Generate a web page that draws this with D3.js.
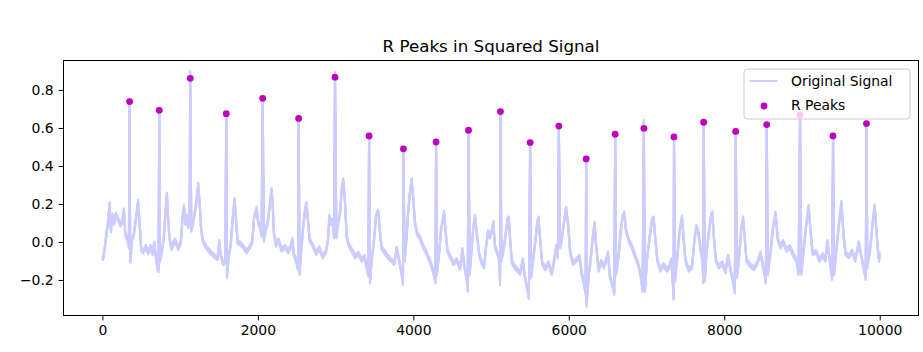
<!DOCTYPE html>
<html>
<head>
<meta charset="utf-8">
<script src="https://cdn.jsdelivr.net/npm/d3@7"></script>
<style>
  body { margin: 0; background: #fff; }
  svg { display: block; font-family: "DejaVu Sans", sans-serif; }
</style>
</head>
<body>
<div id="chart"></div>
<script>
// ECG trace: [sample index, amplitude]
const signal = [
  [0,-0.09],[15,-0.077],[33,-0.025],[54,0.046],[76,0.116],[93,0.2],[110,0.06],[131,0.14],[153,0.1],[174,0.145],
  [204,0.116],[234,0.09],[255,0.105],[277,0.168],[294,0.046],[315,0.02],[332,0.0],[341,-0.025],[350,0.745],[358,-0.095],
  [362,-0.1],[379,0.01],[405,0.04],[430,0.116],[460,0.212],[482,0.08],[500,-0.042],[526,-0.05],[560,-0.025],[590,-0.056],
  [620,-0.025],[645,-0.06],[667,-0.007],[688,-0.077],[709,-0.14],[722,-0.15],[732,0.697],[737,-0.1],[762,-0.06],[792,0.03],
  [817,0.186],[830,0.25],[847,0.116],[864,0.02],[890,-0.033],[933,0.01],[976,-0.033],[1010,0.0],[1032,0.133],[1050,0.186],
  [1071,0.098],[1088,0.133],[1105,0.081],[1122,0.116],[1130,0.89],[1144,0.063],[1165,0.098],[1191,0.16],[1212,0.221],[1233,0.3],
  [1251,0.204],[1268,0.081],[1289,0.011],[1320,-0.016],[1363,-0.042],[1405,-0.06],[1448,-0.077],[1482,-0.086],[1504,0.0],[1525,-0.077],
  [1555,-0.112],[1581,-0.1],[1594,0.675],[1603,-0.182],[1624,-0.077],[1650,-0.016],[1676,0.116],[1701,0.221],[1723,0.098],[1740,0.0],
  [1770,-0.007],[1812,-0.025],[1855,-0.051],[1898,-0.025],[1928,0.0],[1953,0.133],[1984,0.177],[2006,0.098],[2027,0.081],[2048,0.037],
  [2062,0.756],[2078,0.011],[2100,0.063],[2125,0.098],[2151,0.186],[2177,0.274],[2190,0.204],[2207,0.046],[2233,-0.016],[2263,0.011],
  [2306,-0.042],[2348,-0.025],[2391,-0.051],[2422,-0.025],[2443,0.011],[2465,-0.068],[2490,-0.095],[2516,-0.139],[2525,0.65],[2537,-0.165],
  [2559,-0.042],[2584,0.081],[2610,0.177],[2627,0.2],[2644,0.116],[2666,0.011],[2705,-0.016],[2748,-0.06],[2791,-0.033],[2833,-0.077],
  [2876,-0.051],[2903,0.011],[2920,0.133],[2941,0.098],[2962,0.116],[2980,0.028],[2993,0.885],[3010,0.028],[3031,0.098],[3057,0.151],
  [3082,0.291],[3099,0.326],[3122,0.204],[3143,0.028],[3169,-0.016],[3207,-0.042],[3250,-0.077],[3293,-0.06],[3336,-0.095],[3371,-0.077],
  [3400,-0.13],[3422,-0.174],[3431,0.558],[3443,-0.209],[3465,-0.095],[3495,0.011],[3520,0.133],[3542,0.16],[3551,0.155],[3572,0.046],
  [3593,-0.033],[3628,-0.051],[3670,-0.077],[3713,-0.095],[3756,-0.112],[3786,-0.033],[3816,-0.095],[3850,-0.165],[3867,-0.218],[3873,0.49],
  [3888,-0.095],[3914,0.028],[3935,0.168],[3961,0.274],[3979,0.326],[4001,0.221],[4022,0.098],[4048,0.046],[4086,0.02],[4130,-0.025],
  [4172,-0.06],[4207,-0.095],[4237,-0.13],[4262,-0.165],[4284,-0.209],[4293,0.526],[4305,-0.165],[4332,-0.06],[4357,0.063],[4396,0.155],
  [4417,0.046],[4438,-0.042],[4474,-0.077],[4516,-0.112],[4559,-0.095],[4602,-0.139],[4632,-0.042],[4657,-0.13],[4683,-0.182],[4700,-0.253],
  [4710,0.588],[4726,-0.165],[4752,-0.025],[4773,0.081],[4794,0.133],[4821,0.028],[4846,-0.06],[4881,-0.112],[4910,-0.13],[4936,-0.025],
  [4962,0.054],[4987,0.028],[5013,0.063],[5030,0.102],[5051,-0.025],[5082,-0.06],[5108,-0.095],[5116,-0.218],[5121,0.686],[5134,-0.095],
  [5159,-0.042],[5185,0.028],[5211,0.116],[5229,0.125],[5246,0.011],[5267,-0.104],[5301,-0.13],[5341,-0.147],[5375,-0.165],[5409,-0.095],
  [5435,-0.182],[5461,-0.235],[5487,-0.291],[5503,0.523],[5516,-0.182],[5546,-0.077],[5572,0.011],[5594,0.098],[5611,0.125],[5632,0.011],
  [5658,-0.112],[5697,-0.139],[5740,-0.112],[5783,-0.165],[5813,-0.095],[5838,-0.025],[5860,-0.077],[5872,0.61],[5890,-0.025],[5915,0.028],
  [5941,0.116],[5967,0.177],[5993,0.081],[6019,-0.06],[6053,-0.112],[6096,-0.095],[6139,-0.077],[6165,-0.165],[6191,-0.209],[6217,-0.27],
  [6224,0.437],[6229,-0.332],[6255,-0.182],[6280,-0.095],[6306,0.011],[6332,0.098],[6353,-0.025],[6384,-0.147],[6418,-0.104],[6452,-0.13],
  [6482,-0.095],[6504,-0.06],[6529,-0.182],[6555,-0.218],[6585,-0.27],[6597,0.567],[6610,-0.165],[6640,-0.077],[6666,0.046],[6692,0.133],
  [6714,0.151],[6735,0.063],[6770,0.011],[6812,-0.025],[6855,-0.077],[6890,-0.112],[6920,-0.165],[6950,-0.253],[6965,0.633],[6980,-0.253],
  [7006,-0.095],[7036,0.011],[7071,0.116],[7092,0.125],[7114,0.011],[7139,-0.095],[7178,-0.147],[7221,-0.121],[7264,-0.147],[7294,-0.13],
  [7320,-0.095],[7341,-0.235],[7348,-0.296],[7354,0.553],[7367,-0.2],[7393,-0.095],[7423,0.046],[7457,0.13],[7479,0.011],[7500,-0.095],
  [7543,-0.147],[7586,-0.13],[7616,0.011],[7642,0.081],[7668,0.046],[7694,-0.033],[7720,-0.095],[7730,-0.209],[7736,0.63],[7750,-0.2],
  [7771,-0.06],[7801,0.046],[7832,0.142],[7849,0.151],[7866,0.028],[7892,-0.095],[7930,-0.13],[7973,-0.112],[8016,-0.156],[8050,-0.077],
  [8081,-0.147],[8111,-0.2],[8136,-0.261],[8148,0.582],[8162,-0.182],[8188,-0.095],[8218,0.063],[8243,0.125],[8265,0.011],[8286,-0.095],
  [8330,-0.121],[8381,-0.139],[8424,-0.112],[8467,-0.06],[8501,-0.13],[8535,-0.209],[8547,0.618],[8561,-0.165],[8595,-0.06],[8629,0.081],
  [8659,0.151],[8690,0.011],[8724,-0.025],[8758,0.0],[8801,-0.042],[8844,-0.025],[8887,-0.068],[8930,-0.095],[8956,-0.165],[8975,0.668],
  [8992,-0.165],[9022,-0.042],[9052,0.081],[9086,0.186],[9112,0.046],[9138,-0.06],[9181,-0.051],[9224,-0.095],[9266,-0.068],[9302,-0.095],
  [9327,0.0],[9357,-0.095],[9387,-0.191],[9400,0.558],[9413,-0.165],[9447,-0.025],[9481,0.116],[9508,0.207],[9533,0.046],[9559,-0.06],
  [9602,-0.077],[9645,-0.051],[9687,-0.095],[9730,-0.007],[9773,-0.095],[9807,-0.165],[9820,-0.191],[9830,0.623],[9841,-0.13],[9875,-0.042],
  [9905,0.081],[9935,0.189],[9960,0.046],[9980,-0.06],[9992,-0.095],[9999,-0.06]
];

// detected R peaks
const peakIdx = [350, 732, 1131, 1594, 2062, 2525, 2993, 3431, 3873, 4293, 4710, 5121,
                 5503, 5872, 6224, 6597, 6967, 7353, 7735, 8147, 8546, 8975, 9399, 9830];
const peakVal = [0.739, 0.693, 0.861, 0.675, 0.756, 0.65, 0.867, 0.558, 0.49, 0.526, 0.588, 0.686,
                 0.523, 0.61, 0.437, 0.567, 0.598, 0.553, 0.63, 0.582, 0.618, 0.668, 0.558, 0.623];

const xTicks = [0, 2000, 4000, 6000, 8000, 10000];
const yTicks = [-0.2, 0.0, 0.2, 0.4, 0.6, 0.8];
const legendLabels = ["Original Signal", "R Peaks"];

const W = 923, H = 352;
const margin = { top: 60.5, right: 4.5, bottom: 36.5, left: 63.5 };
const width = W - margin.left - margin.right;
const height = H - margin.top - margin.bottom;

const lineColor = "#ccccff";
const peakColor = "#bf00bf";

const svg = d3.select("#chart").append("svg")
  .attr("width", W)
  .attr("height", H);

const g = svg.append("g")
  .attr("transform", `translate(${margin.left},${margin.top})`);

const x = d3.scaleLinear().domain([-500, 10499]).range([0, width]);
const y = d3.scaleLinear().domain([-0.387, 0.955]).range([height, 0]);

// Signal (drawn a few times with a small vertical shift to give the noisy band)
const line = d3.line()
  .x(d => x(d[0]))
  .y(d => y(d[1]));

const sig = g.append("g");
[-1.8, -0.6, 0.6, 1.8].forEach(dy => {
  sig.append("path")
    .datum(signal)
    .attr("transform", `translate(0,${dy})`)
    .attr("fill", "none")
    .attr("stroke", lineColor)
    .attr("stroke-width", 2.1)
    .attr("stroke-linejoin", "round")
    .attr("d", line);
});

// Peaks
g.selectAll(".peak")
  .data(peakIdx)
  .enter().append("circle")
  .attr("class", "peak")
  .attr("cx", d => x(d))
  .attr("cy", (d, i) => y(peakVal[i]))
  .attr("r", 3.4)
  .attr("fill", peakColor);

// Axes
const xAxis = g.append("g")
  .attr("transform", `translate(0,${height})`)
  .call(d3.axisBottom(x).tickValues(xTicks).tickFormat(d3.format("d"))
    .tickSize(4.9).tickPadding(4.9).tickSizeOuter(0));
const yAxis = g.append("g")
  .call(d3.axisLeft(y).tickValues(yTicks).tickFormat(d3.format(".1f"))
    .tickSize(4.9).tickPadding(4.9).tickSizeOuter(0));

[xAxis, yAxis].forEach(a => {
  a.select(".domain").remove();
  a.selectAll("line").attr("stroke", "#000").attr("stroke-width", 1);
  a.selectAll("text")
    .style("font-family", "'DejaVu Sans', sans-serif")
    .style("font-size", "13.9px")
    .attr("fill", "#000");
});

// Frame
g.append("rect")
  .attr("x", 0).attr("y", 0)
  .attr("width", width).attr("height", height)
  .attr("fill", "none")
  .attr("stroke", "#000")
  .attr("stroke-width", 1);

// Title
svg.append("text")
  .attr("x", margin.left + width / 2)
  .attr("y", 52)
  .attr("text-anchor", "middle")
  .style("font-size", "16.7px")
  .attr("fill", "#000")
  .text("R Peaks in Squared Signal");

// Legend
const lg = svg.append("g").attr("transform", "translate(744,69)");
lg.append("rect")
  .attr("width", 166).attr("height", 50)
  .attr("rx", 3).attr("ry", 3)
  .attr("fill", "#fff").attr("fill-opacity", 0.8)
  .attr("stroke", "#cccccc").attr("stroke-width", 1);
lg.append("line")
  .attr("x1", 5.5).attr("x2", 33.5)
  .attr("y1", 12).attr("y2", 12)
  .attr("stroke", lineColor).attr("stroke-width", 2);
lg.append("circle")
  .attr("cx", 20).attr("cy", 37)
  .attr("r", 3.4)
  .attr("fill", peakColor);
lg.selectAll(".ltext")
  .data(legendLabels)
  .enter().append("text")
  .attr("class", "ltext")
  .attr("x", 47)
  .attr("y", (d, i) => 12 + i * 24)
  .attr("dy", "0.36em")
  .style("font-size", "13.9px")
  .attr("fill", "#000")
  .text(d => d);
</script>
</body>
</html>
